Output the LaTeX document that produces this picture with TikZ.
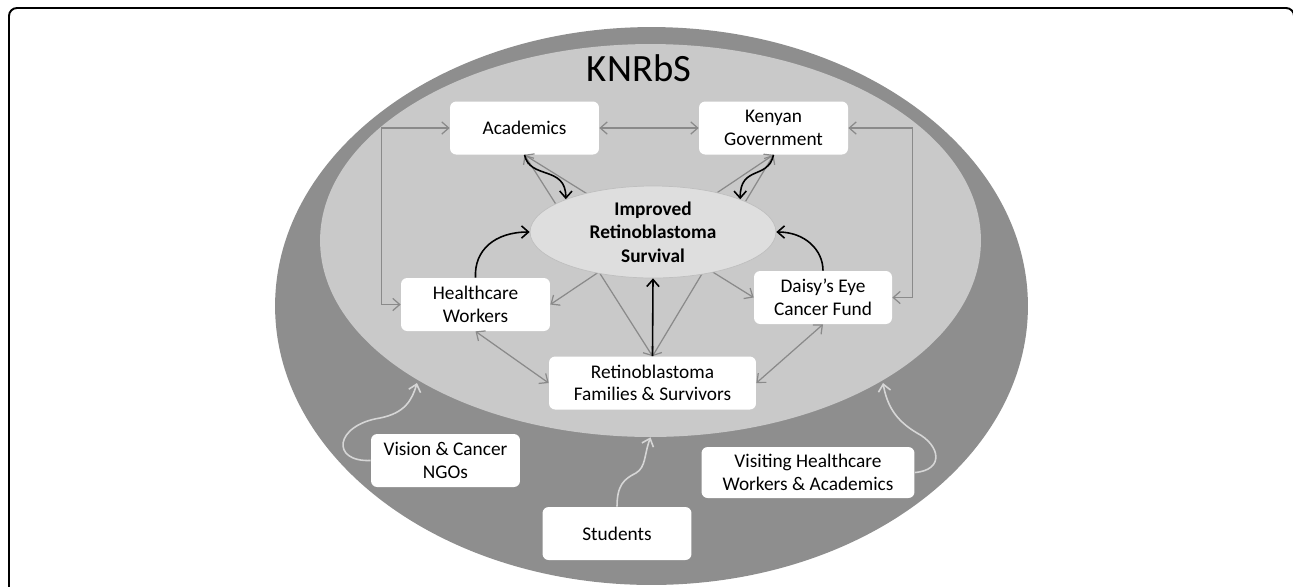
\documentclass[tikz,border=0pt]{standalone}
\usepackage{fontspec}
\setmainfont{Carlito}
\usetikzlibrary{shapes.geometric,arrows.meta}
\definecolor{ringgrey}{HTML}{8E8E8E}
\definecolor{innergrey}{HTML}{C9C9C9}
\definecolor{goalgrey}{HTML}{DEDEDE}
\definecolor{linkgrey}{HTML}{8A8A8A}
\definecolor{feedgrey}{HTML}{D6D6D6}
\tikzstyle{actorbox} = [fill=white, rounded corners=3.5pt, minimum width=2.98cm,
    minimum height=1.06cm, inner sep=2pt, align=center,
    font=\fontsize{11}{12.9}\selectfont]
\tikzstyle{goal} = [ellipse, fill=goalgrey, draw=gray!50, thin, inner sep=0pt,
    minimum width=4.92cm, minimum height=1.84cm, align=center,
    font=\bfseries\fontsize{11}{13.3}\selectfont]
\tikzstyle{link} = [draw=linkgrey, line width=0.7pt,
    {Straight Barb[length=4pt,width=7pt]}-{Straight Barb[length=4pt,width=7pt]}]
\tikzstyle{push} = [draw=black, line width=0.9pt, -{Straight Barb[length=4pt,width=7pt]}]
\tikzstyle{feed} = [draw=feedgrey, line width=0.9pt, -{Straight Barb[length=4pt,width=7pt]}]

\begin{document}
\begin{tikzpicture}[x=0.02cm, y=-0.02cm]
                \useasboundingbox (0,0) rectangle (1293,586);
                \fill[white] (0,0) rectangle (1293,586);
                \draw[line width=1.1pt, rounded corners=4.5pt] (9,600) -- (9,8) -- (1294,8) -- (1294,600);
                \node[ellipse, fill=ringgrey, inner sep=0pt, minimum width=15.06cm, minimum height=11.16cm] (ring) at (651.5,306) {};
                \node[ellipse, fill=innergrey, inner sep=0pt, minimum width=13.22cm, minimum height=7.86cm] (inner) at (650.5,240.5) {};
                \node[font=\fontsize{22}{26}\selectfont, anchor=base] (knrbs) at (639,81) {KNRbS};
                \node[actorbox] (acad) at (524.5,128) {Academics};
                \node[actorbox] (gov) at (773.5,128) {Kenyan\\Government};
                \node[actorbox] (hc) at (475.5,304.5) {Healthcare\\Workers};
                \node[actorbox, minimum width=2.76cm] (daisy) at (823,297.5) {Daisy’s Eye\\Cancer Fund};
                \node[actorbox, minimum width=4.14cm] (fam) at (652.5,383) {Retinoblastoma\\Families \& Survivors};
                \node[actorbox] (ngo) at (445.5,460.5) {Vision \& Cancer\\NGOs};
                \node[actorbox] (stud) at (617,533.5) {Students};
                \node[actorbox, minimum width=4.26cm, minimum height=1.02cm] (visit) at (808,472.5) {Visiting Healthcare\\Workers \& Academics};
                \draw[link] (acad.east) -- (gov.west);
                \draw[link] (acad.west) -- ++(-68,0) |- (hc.west);
                \draw[link] (gov.east) -- ++(64,0) |- (daisy.east);
                \draw[link] (acad.south) -- (fam.north);
                \draw[link] (gov.south) -- (fam.north);
                \draw[link] (acad.south) -- (daisy.west);
                \draw[link] (gov.south) -- (hc.east);
                \draw[link] (hc.south) -- (fam.west);
                \draw[link] (daisy.south) -- (fam.east);
                \node[goal] (goal) at (653,232) {Improved\\Retinoblastoma\\Survival};
                \draw[push] (acad.south) .. controls (530,180) and (566,165) .. (goal.north west);
                \draw[push] (gov.south) .. controls (768,180) and (740,165) .. (goal.north east);
                \draw[push] (hc.north) .. controls (474,250) and (495,232) .. (goal.west);
                \draw[push] (daisy.north) .. controls (823,250) and (805,232) .. (goal.east);
                \draw[push] (fam.north) -- (goal.south);
                \coordinate (ngotip) at (417,383);
                \coordinate (visittip) at (883,383);
                \draw[feed] (ngo.west) .. controls (330,462) and (335,425) .. (380,418) .. controls (405,413) and (412,400) .. (ngotip);
                \draw[feed] (stud.north) .. controls (617,485) and (624,479) .. (636,473) .. controls (646,467) and (644,455) .. (inner.south);
                \draw[feed] (visit.east) .. controls (945,470) and (940,445) .. (917,433) .. controls (895,420) and (887,405) .. (visittip);
            \end{tikzpicture}
\end{document}
